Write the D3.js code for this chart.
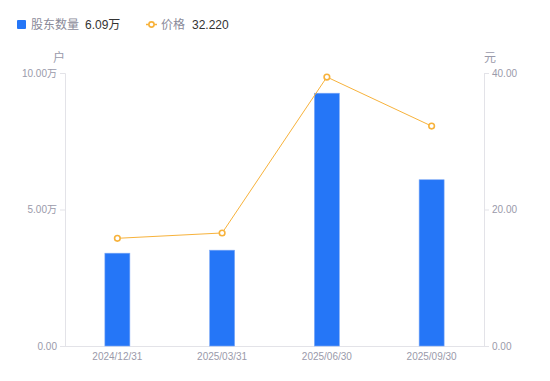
<!DOCTYPE html>
<html><head><meta charset="utf-8">
<script src="https://cdn.jsdelivr.net/npm/d3@7"></script>
<style>body{margin:0;background:#fff;}svg{display:block;font-family:"Liberation Sans","Noto Sans CJK SC",sans-serif;}</style>
</head><body><svg id="c" width="550" height="381"></svg>
<script>
const categories = ["2024/12/31","2025/03/31","2025/06/30","2025/09/30"];
const holders = [3.40, 3.51, 9.26, 6.09];   // 万户
const prices = [15.78, 16.56, 39.41, 32.22]; // 元
const leftTicks = [0, 5, 10];
const rightTicks = [0, 20, 40];
const legendLabels = ["股东数量", "价格"];
const legendValues = ["6.09万", "32.220"];

const FONT = "'Liberation Sans','Noto Sans CJK SC',sans-serif";
const svg = d3.select("#c");
const m = {l:65, r:484, t:73, b:346};
const x = d3.scaleBand().domain(categories).range([m.l, m.r]);
const yL = d3.scaleLinear().domain([0,10]).range([m.b, m.t]);
const yR = d3.scaleLinear().domain([0,40]).range([m.b, m.t]);
const axisColor = "#e3e3e8", labelColor = "#9a9aaa";

const gl = svg.append("g").attr("transform",`translate(${m.l},0)`)
  .call(d3.axisLeft(yL).tickValues(leftTicks).tickSize(5).tickPadding(3)
    .tickFormat(d => d===0 ? "0.00" : d3.format(".2f")(d)+"万"));
const gr = svg.append("g").attr("transform",`translate(${m.r},0)`)
  .call(d3.axisRight(yR).tickValues(rightTicks).tickSize(5).tickPadding(3)
    .tickFormat(d3.format(".2f")));
const gb = svg.append("g").attr("transform",`translate(0,${m.b})`)
  .call(d3.axisBottom(x).tickSize(0).tickPadding(7));
[gl,gr,gb].forEach(g=>{
  g.selectAll("path,line").attr("stroke",axisColor);
  g.selectAll("text").attr("fill",labelColor).style("font-size","10px").style("font-family",FONT);
});
gb.select(".domain").attr("d",`M${m.l},0.5H${m.r}`);

svg.append("text").attr("x",59).attr("y",62).attr("text-anchor","middle")
  .attr("fill",labelColor).style("font-size","12px").text("户");
svg.append("text").attr("x",490).attr("y",62).attr("text-anchor","middle")
  .attr("fill",labelColor).style("font-size","12px").text("元");

const bw = 25;
svg.append("g").selectAll("rect").data(holders).join("rect")
  .attr("x",(d,i)=>x(categories[i])+x.bandwidth()/2-bw/2)
  .attr("y",d=>yL(d)).attr("width",bw).attr("height",d=>m.b-yL(d))
  .attr("fill","#2576f7").attr("stroke","#7eaaf7").attr("stroke-width",0.6);

const orange = "#f7b23b";
const line = d3.line().x((d,i)=>x(categories[i])+x.bandwidth()/2).y(d=>yR(d));
svg.append("path").datum(prices).attr("d",line).attr("fill","none")
  .attr("stroke",orange).attr("stroke-width",1);
svg.append("g").selectAll("circle").data(prices).join("circle")
  .attr("cx",(d,i)=>x(categories[i])+x.bandwidth()/2).attr("cy",d=>yR(d))
  .attr("r",2.8).attr("fill","#fff").attr("stroke",orange).attr("stroke-width",1.6);

const lg = svg.append("g");
lg.append("rect").attr("x",17).attr("y",20).attr("width",9).attr("height",9).attr("rx",1).attr("fill","#2576f7");
lg.append("text").attr("x",31).attr("y",29).attr("fill","#8a8a99").style("font-size","12px").text(legendLabels[0]);
lg.append("text").attr("x",85).attr("y",29).attr("fill","#333").style("font-size","12px").text(legendValues[0]);
lg.append("line").attr("x1",146).attr("x2",157).attr("y1",24.5).attr("y2",24.5).attr("stroke",orange).attr("stroke-width",1.5);
lg.append("circle").attr("cx",151.5).attr("cy",24.5).attr("r",2.6).attr("fill","#fff").attr("stroke",orange).attr("stroke-width",1.6);
lg.append("text").attr("x",161).attr("y",29).attr("fill","#8a8a99").style("font-size","12px").text(legendLabels[1]);
lg.append("text").attr("x",192).attr("y",29).attr("fill","#333").style("font-size","12px").text(legendValues[1]);
</script></body></html>
